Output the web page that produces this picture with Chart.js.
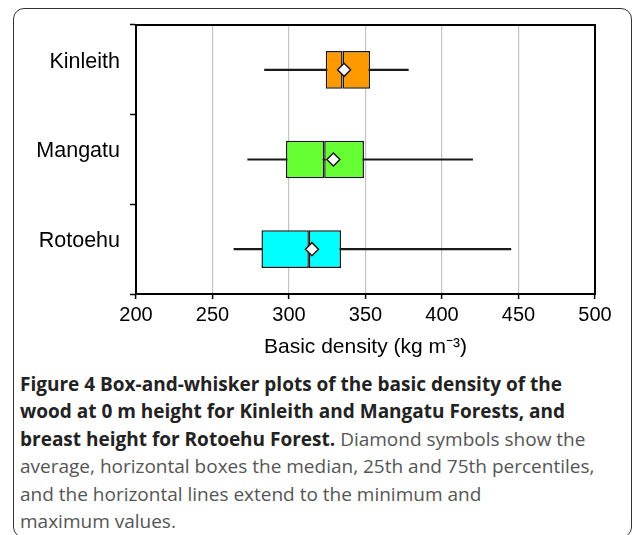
<!DOCTYPE html>
<html>
<head>
<meta charset="utf-8">
<script src="https://cdn.jsdelivr.net/npm/chart.js@4"></script>
<style>
  body { margin: 0; background: #fff; width: 633px; height: 535px; overflow: hidden; position: relative; }
  #frame { position: absolute; left: 13px; top: 8px; width: 617px; height: 528px; border: 1.5px solid #333; border-radius: 11px; }
  #chart-box { position: absolute; left: 0; top: 0; width: 633px; height: 362px; }
  #caption { position: absolute; left: 20px; top: 371px; font-family: "Open Sans", Lato, sans-serif; font-size: 19px; line-height: 27.4px; color: #555; white-space: nowrap; }
  #caption b { color: #222; font-weight: 700; }
</style>
</head>
<body>
<div id="frame"></div>
<div id="chart-box"><canvas id="chart"></canvas></div>
<div id="caption">
  <b>Figure 4 Box-and-whisker plots of the basic density of the</b><br>
  <b>wood at 0 m height for Kinleith and Mangatu Forests, and</b><br>
  <b>breast height for Rotoehu Forest.</b> Diamond symbols show the<br>
  average, horizontal boxes the median, 25th and 75th percentiles,<br>
  and the horizontal lines extend to the minimum and<br>
  maximum values.
</div>
<script>
// data
let forests = ['Kinleith', 'Mangatu', 'Rotoehu'];
let minValues = [284, 273, 264];
let q1Values = [324, 298, 282];
let medianValues = [335, 323, 313];
let q3Values = [353, 349, 334];
let maxValues = [378, 420, 445];
let meanValues = [336, 329, 315];
let xTicks = [200, 250, 300, 350, 400, 450, 500];

let boxColors = ['#ff9900', '#66ff33', '#00ffff'];
let lineColor = '#1a1a1a';

// draws the black frame round the plot area
const plotFrame = {
  id: 'plotFrame',
  afterDatasetsDraw(chart) {
    const a = chart.chartArea;
    const ctx = chart.ctx;
    ctx.save();
    ctx.strokeStyle = '#000';
    ctx.lineWidth = 2;
    ctx.strokeRect(a.left, a.top, a.right - a.left, a.bottom - a.top);
    ctx.restore();
  }
};

const fontFamily = 'Liberation Sans, Arial, sans-serif';

new Chart(document.getElementById('chart'), {
  type: 'bar',
  data: {
    labels: forests,
    datasets: [
      {
        type: 'line',
        label: 'Mean',
        data: meanValues,
        showLine: false,
        pointStyle: 'rectRot',
        pointRadius: 6.5,
        pointBackgroundColor: '#fff',
        pointBorderColor: lineColor,
        pointBorderWidth: 1.5,
        order: 0
      },
      {
        label: 'Q1-median',
        data: forests.map((f, i) => [q1Values[i], medianValues[i]]),
        backgroundColor: boxColors,
        borderColor: lineColor,
        borderWidth: 1.5,
        borderSkipped: false,
        grouped: false,
        categoryPercentage: 1,
        barPercentage: 0.42,
        order: 1
      },
      {
        label: 'median-Q3',
        data: forests.map((f, i) => [medianValues[i], q3Values[i]]),
        backgroundColor: boxColors,
        borderColor: lineColor,
        borderWidth: 1.5,
        borderSkipped: false,
        grouped: false,
        categoryPercentage: 1,
        barPercentage: 0.42,
        order: 1
      },
      {
        label: 'Range',
        data: forests.map((f, i) => [minValues[i], maxValues[i]]),
        backgroundColor: lineColor,
        borderWidth: 0,
        grouped: false,
        barThickness: 1.5,
        order: 2
      }
    ]
  },
  options: {
    indexAxis: 'y',
    responsive: true,
    maintainAspectRatio: false,
    animation: false,
    layout: { padding: { left: 0, top: 25, right: 38, bottom: 0 } },
    plugins: {
      legend: { display: false },
      tooltip: { enabled: false }
    },
    scales: {
      x: {
        type: 'linear',
        min: xTicks[0],
        max: xTicks[xTicks.length - 1],
        afterBuildTicks(scale) { scale.ticks = xTicks.map(v => ({ value: v })); },
        afterFit(scale) { scale.height = 68; },
        grid: { color: '#c4c4c4', lineWidth: 1.2, tickColor: '#000', tickLength: 5, tickWidth: 1.5 },
        border: { color: '#000', width: 2 },
        ticks: { color: '#000', font: { family: fontFamily, size: 20 }, padding: 4 },
        title: {
          display: true,
          text: 'Basic density (kg m\u207B\u00B3)',
          color: '#000',
          font: { family: fontFamily, size: 21 },
          padding: { top: 0, bottom: 2 }
        }
      },
      y: {
        type: 'category',
        afterFit(scale) { scale.width = 136; },
        grid: { drawOnChartArea: false, tickColor: '#000', tickLength: 6, tickWidth: 1.5 },
        border: { color: '#000', width: 2 },
        ticks: { color: '#000', font: { family: fontFamily, size: 21.5 }, padding: 10, labelOffset: -8 }
      }
    }
  },
  plugins: [plotFrame]
});
</script>
</body>
</html>
